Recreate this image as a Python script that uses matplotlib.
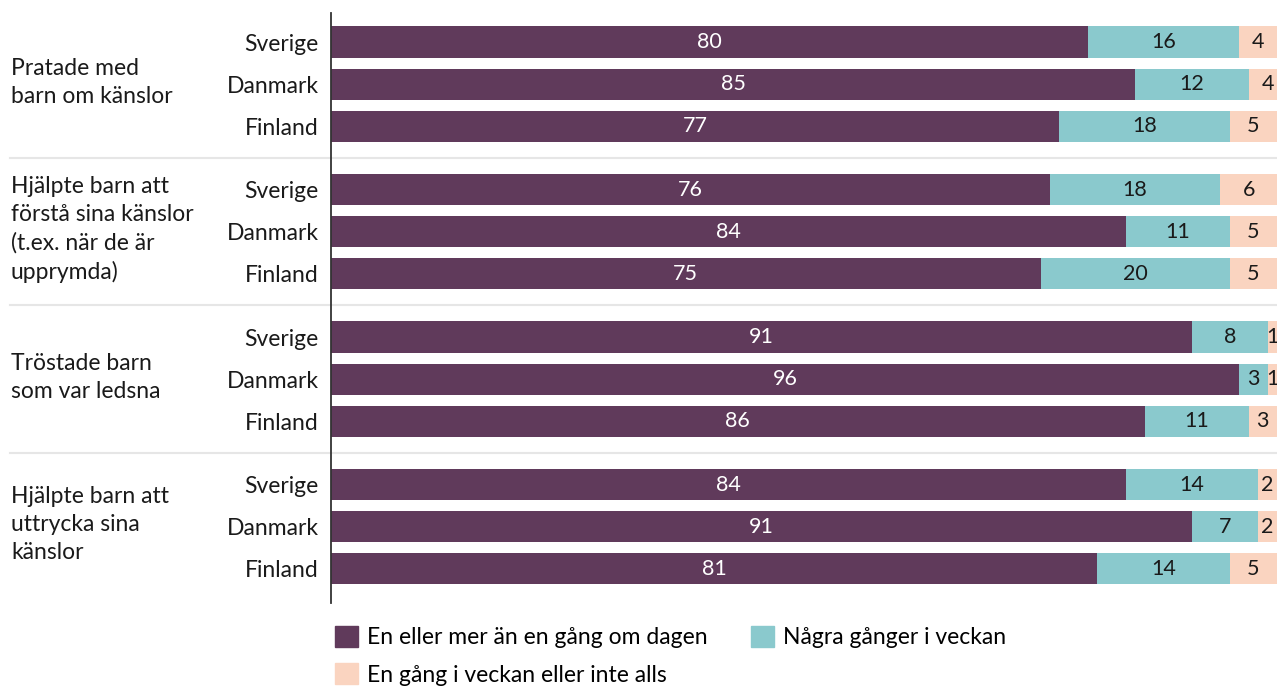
import numpy as np
import matplotlib.pyplot as plt
from matplotlib.patches import Patch
from matplotlib.lines import Line2D
import matplotlib.transforms as mtransforms

plt.rcParams['font.family'] = ['Lato', 'DejaVu Sans']

groups = ['Pratade med\nbarn om känslor',
          'Hjälpte barn att\nförstå sina känslor\n(t.ex. när de är\nupprymda)',
          'Tröstade barn\nsom var ledsna',
          'Hjälpte barn att\nuttrycka sina\nkänslor']
countries = ['Sverige', 'Danmark', 'Finland']
series_names = ['En eller mer än en gång om dagen', 'Några gånger i veckan',
                'En gång i veckan eller inte alls']
daily = [80, 85, 77, 76, 84, 75, 91, 96, 86, 84, 91, 81]
weekly = [16, 12, 18, 18, 11, 20, 8, 3, 11, 14, 7, 14]
rarely = [4, 4, 5, 6, 5, 5, 1, 1, 3, 2, 2, 5]

colors = ['#603a5b', '#8ac9cd', '#fad4c0']
txtcol = ['white', '#1a1a1a', '#1a1a1a']

W, H = 1277, 686
fig = plt.figure(figsize=(W/100, H/100), dpi=100)
ax = fig.add_axes([331/W, 1-603/H, (W-331)/W, (603-13)/H])

# y positions: 1 unit per row, 1.5 between groups
ypos = []
for g in range(len(groups)):
    for c in range(len(countries)):
        ypos.append(g*3.5 + c)
ypos = np.array(ypos)

fs = 16.5
left = np.zeros(len(daily))
for vals, col, tc in zip([daily, weekly, rarely], colors, txtcol):
    vals = np.array(vals)
    ax.barh(ypos, vals, left=left, height=0.74, color=col, linewidth=0)
    for y, l, v in zip(ypos, left, vals):
        ax.text(l + v/2, y, str(v), ha='center', va='center', color=tc,
                fontsize=fs - 1, clip_on=False)
    left = left + vals

ax.set_xlim(0, 100)
ax.set_ylim(ypos[-1] + 0.81, ypos[0] - 0.69)
ax.set_yticks(ypos)
ax.set_yticklabels(countries * len(groups), fontsize=fs, color='#1a1a1a')
ax.tick_params(axis='y', length=0, pad=9)
ax.set_xticks([])
for s in ['top', 'right', 'bottom']:
    ax.spines[s].set_visible(False)
ax.spines['left'].set_color('#333333')
ax.spines['left'].set_linewidth(1.3)

# group labels and separators, x in figure coords, y in data
trans = mtransforms.blended_transform_factory(fig.transFigure, ax.transData)
for g in range(len(groups)):
    yc = g*3.5 + 1
    ax.text(11/W, yc - 0.05, groups[g], transform=trans, ha='left', va='center',
            fontsize=fs, linespacing=1.4, color='#1a1a1a')
    if g > 0:
        ysep = g*3.5 - 0.75
        ax.add_line(Line2D([10/W, 1.0], [ysep, ysep], transform=trans,
                           color='#e6e6e6', linewidth=1.5, clip_on=False, zorder=0))

handles = [Patch(color=c) for c in colors]
order = [0, 2, 1]
fig.legend([handles[i] for i in order], [series_names[i] for i in order],
           ncol=2, loc='upper left', bbox_to_anchor=(335/W, 1-626/H),
           frameon=False, fontsize=fs, handlelength=1.0, handleheight=1.0,
           handletextpad=0.4, columnspacing=1.9, labelspacing=0.67,
           borderpad=0, borderaxespad=0)

fig.savefig('out.png', dpi=100)
